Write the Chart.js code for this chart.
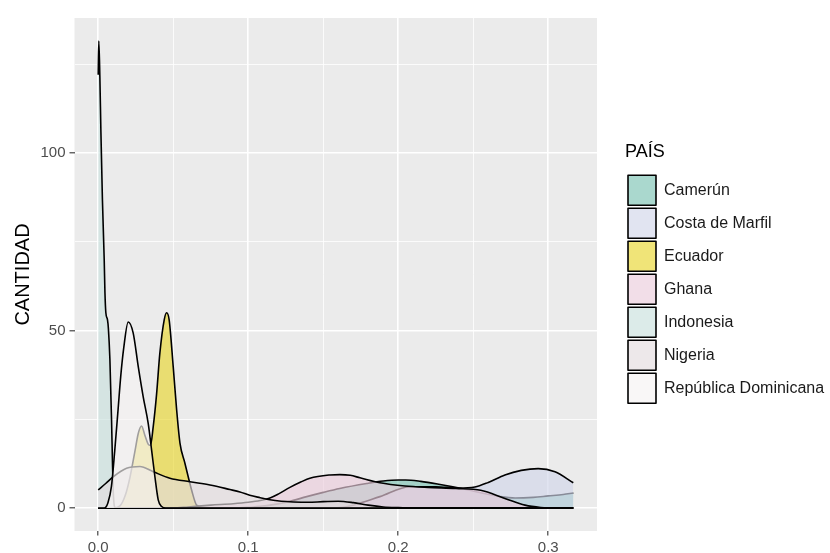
<!DOCTYPE html>
<html>
<head>
<meta charset="utf-8">
<title>Densidad por país</title>
<script src="https://cdn.jsdelivr.net/npm/chart.js@4.4.1/dist/chart.umd.min.js"></script>
<style>
  html, body { margin: 0; padding: 0; background: #fff; }
  canvas { display: block; }
</style>
</head>
<body>
<canvas id="densChart" width="830" height="553"></canvas>
<script>
// países y colores del relleno
const paises = ['Camerún', 'Costa de Marfil', 'Ecuador', 'Ghana', 'Indonesia', 'Nigeria', 'República Dominicana'];
const rellenos = [
    'rgba(124,195,180,0.65)',
    'rgba(209,213,233,0.65)',
    'rgba(232,214,47,0.65)',
    'rgba(235,204,220,0.65)',
    'rgba(201,224,221,0.65)',
    'rgba(227,220,223,0.65)',
    'rgba(246,243,243,0.65)'
];

// curvas de densidad (x, CANTIDAD)
const cameronX = [0, 0.09, 0.1, 0.108, 0.1145, 0.127, 0.139, 0.15, 0.161, 0.179, 0.19, 0.2, 0.205, 0.215, 0.227, 0.2423, 0.255, 0.268, 0.278, 0.29, 0.3, 0.31, 0.3167];
const cameronY = [0, 0, 0.2, 0.5, 0.8, 1.8, 3.2, 4.4, 5.5, 6.9, 7.6, 7.9, 7.9, 7.5, 6.7, 5.5, 4.3, 3.2, 2.8, 3.0, 3.4, 3.8, 4.2];

const costaX = [0, 0.155, 0.163, 0.17, 0.1878, 0.2078, 0.225, 0.24, 0.2511, 0.26, 0.2711, 0.282, 0.2933, 0.3045, 0.3167];
const costaY = [0, 0, 0.2, 0.8, 3.2, 6.0, 6.0, 5.6, 5.9, 7.2, 9.3, 10.6, 11.1, 10.2, 7.1];

const ecuadorX = [0, 0.01, 0.0145, 0.018, 0.0211, 0.0245, 0.0267, 0.0289, 0.0311, 0.0333, 0.0348, 0.0367, 0.0389, 0.0411, 0.044, 0.0456, 0.0473, 0.05, 0.0523, 0.0545, 0.0578, 0.06, 0.0623, 0.0656, 0.07, 0.08, 0.3167];
const ecuadorY = [0, 0, 0.6, 3.5, 8.5, 16, 21, 23.1, 20.5, 18, 17.6, 23, 32, 43.6, 53, 55, 53, 39.8, 27.6, 18.3, 12.6, 8.8, 5, 0.8, 0.1, 0, 0];

const ghanaX = [0, 0.05, 0.06, 0.075, 0.09, 0.1, 0.108, 0.1145, 0.12, 0.1278, 0.135, 0.1411, 0.1545, 0.1611, 0.168, 0.1745, 0.1878, 0.2045, 0.22, 0.2385, 0.255, 0.2711, 0.2845, 0.295, 0.305, 0.3167];
const ghanaY = [0, 0, 0.3, 0.8, 1.2, 1.6, 2.1, 2.8, 3.9, 5.8, 7.3, 8.4, 9.3, 9.4, 9.2, 8.5, 7.1, 6.2, 5.8, 5.5, 5.0, 2.7, 0.8, 0.15, 0, 0];

const indonesiaX = [0, 0.0004, 0.0011, 0.0018, 0.0028, 0.004, 0.0045, 0.0051, 0.0062, 0.0068, 0.0078, 0.0089, 0.0095, 0.01, 0.0108, 0.012, 0.3167];
const indonesiaY = [122, 131.5, 121.6, 106, 87, 70, 60.6, 55, 53, 50.5, 41.8, 24.8, 13, 5, 0.5, 0, 0];

const nigeriaX = [0, 0.005, 0.01, 0.0189, 0.0278, 0.0367, 0.0478, 0.0611, 0.0745, 0.0878, 0.0945, 0.101, 0.108, 0.1145, 0.122, 0.13, 0.14, 0.15, 0.16, 0.17, 0.18, 0.19, 0.2, 0.21, 0.3167];
const nigeriaY = [5.1, 6.9, 8.8, 11.2, 11.7, 10.2, 8.4, 7.4, 6.5, 5.2, 4.5, 3.6, 2.9, 2.3, 1.9, 1.7, 1.6, 1.8, 1.9, 1.5, 0.8, 0.3, 0.1, 0, 0];

const dominicanaX = [0, 0.004, 0.0065, 0.0088, 0.011, 0.0133, 0.015, 0.017, 0.02, 0.0233, 0.0267, 0.03, 0.0333, 0.0356, 0.0378, 0.04, 0.0423, 0.045, 0.3167];
const dominicanaY = [0, 0, 1.5, 6, 16, 28, 37, 45, 52.4, 49.3, 39.8, 31.3, 23.9, 16.3, 8.8, 2.3, 0.4, 0, 0];

const xTicks = [0, 0.05, 0.1, 0.15, 0.2, 0.25, 0.3];
const yTicks = [0, 25, 50, 75, 100, 125];

const curvas = [
    [cameronX, cameronY], [costaX, costaY], [ecuadorX, ecuadorY], [ghanaX, ghanaY],
    [indonesiaX, indonesiaY], [nigeriaX, nigeriaY], [dominicanaX, dominicanaY]
];

Chart.defaults.font.family = "'Liberation Sans', Arial, sans-serif";

const esMayorX = v => Math.abs(v * 10 - Math.round(v * 10)) < 1e-9;
const esMayorY = v => v % 50 === 0;

// el primero en la lista se dibuja encima: invertimos para que República Dominicana quede arriba
const datasets = curvas.map(function (c, i) {
    return {
        label: paises[i],
        data: c[0].map((x, j) => ({ x: x, y: c[1][j] })),
        backgroundColor: rellenos[i],
        borderColor: '#000',
        borderWidth: 1.6,
        borderJoinStyle: 'round',
        pointRadius: 0,
        fill: 'origin',
        cubicInterpolationMode: 'monotone'
    };
}).reverse();

const panelFondo = {
    id: 'panelFondo',
    beforeDraw(chart) {
        const { ctx, chartArea: a } = chart;
        ctx.save();
        ctx.fillStyle = '#ebebeb';
        ctx.fillRect(a.left, a.top, a.right - a.left, a.bottom - a.top);
        ctx.restore();
    }
};

const ctx = document.getElementById('densChart').getContext('2d');
const densChart = new Chart(ctx, {
    type: 'line',
    data: { datasets: datasets },
    plugins: [panelFondo],
    options: {
        responsive: false,
        animation: false,
        layout: { padding: { top: 18, right: 0, bottom: 0, left: 0 } },
        plugins: {
            tooltip: { enabled: false },
            legend: {
                position: 'right',
                fullSize: false,
                reverse: true,
                maxWidth: 205,
                title: {
                    display: true,
                    text: 'PAÍS',
                    position: 'start',
                    color: '#000',
                    font: { size: 18 },
                    padding: { top: 0, bottom: 8 }
                },
                labels: {
                    boxWidth: 28,
                    boxHeight: 30,
                    padding: 3,
                    color: '#1a1a1a',
                    font: { size: 16 }
                }
            }
        },
        scales: {
            x: {
                type: 'linear',
                min: -0.0158,
                max: 0.3325,
                afterBuildTicks: s => { s.ticks = xTicks.map(v => ({ value: v })); },
                afterFit: s => { s.height = 22; },
                border: { display: false },
                grid: {
                    color: '#fff',
                    lineWidth: c => (c.tick && esMayorX(c.tick.value)) ? 1.6 : 0.8,
                    tickColor: c => (c.tick && esMayorX(c.tick.value)) ? '#333' : 'rgba(0,0,0,0)',
                    tickWidth: 1.1,
                    tickLength: 4.5
                },
                ticks: {
                    autoSkip: false,
                    maxRotation: 0,
                    padding: 3,
                    color: '#4d4d4d',
                    font: { size: 15 },
                    callback: v => esMayorX(v) ? v.toFixed(1) : ''
                }
            },
            y: {
                type: 'linear',
                min: -6.48,
                max: 138.0,
                afterBuildTicks: s => { s.ticks = yTicks.map(v => ({ value: v })); },
                afterFit: s => { s.width = 74.5; },
                border: { display: false },
                title: {
                    display: true,
                    text: 'CANTIDAD',
                    color: '#000',
                    font: { size: 20 },
                    padding: { top: 11, bottom: 0 }
                },
                grid: {
                    color: '#fff',
                    lineWidth: c => (c.tick && esMayorY(c.tick.value)) ? 1.6 : 0.8,
                    tickColor: c => (c.tick && esMayorY(c.tick.value)) ? '#333' : 'rgba(0,0,0,0)',
                    tickWidth: 1.1,
                    tickLength: 5
                },
                ticks: {
                    autoSkip: false,
                    padding: 4,
                    color: '#4d4d4d',
                    font: { size: 15 },
                    callback: v => esMayorY(v) ? String(v) : ''
                }
            },
            // hueco entre el panel y la leyenda
            hueco: {
                type: 'linear',
                position: 'right',
                display: true,
                border: { display: false },
                grid: { display: false, drawTicks: false },
                ticks: { display: false },
                afterFit: s => { s.width = 28; }
            }
        }
    }
});
</script>
</body>
</html>
